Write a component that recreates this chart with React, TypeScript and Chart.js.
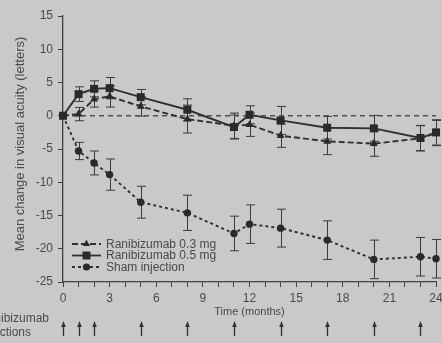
import { useEffect, useRef } from 'react';
import { Chart, registerables } from 'chart.js';

Chart.register(...registerables);

// ---- Data ----
const months = [0, 1, 2, 3, 5, 8, 11, 12, 14, 17, 20, 23, 24];
const rani03 = [0, 0.25, 2.5, 2.9, 1.4, -0.5, -1.5, -1.35, -3.0, -3.85, -4.2, -3.4, -2.6];
const rani03Err = [0, 1.0, 1.2, 1.6, 1.45, 2.1, 1.9, 1.75, 1.75, 2.0, 1.9, 1.9, 1.9];
const rani05 = [0, 3.25, 4.05, 4.15, 2.8, 0.9, -1.7, 0.15, -0.7, -1.8, -1.9, -3.35, -2.5];
const rani05Err = [0, 1.1, 1.2, 1.6, 1.15, 1.65, 1.8, 1.35, 2.1, 1.7, 1.95, 1.9, 1.9];
const sham = [0, -5.3, -7.1, -8.85, -13.0, -14.6, -17.7, -16.3, -16.9, -18.7, -21.6, -21.2, -21.5];
const shamErr = [0, 1.3, 1.8, 2.35, 2.4, 2.65, 2.6, 2.9, 2.85, 2.9, 2.9, 2.9, 2.9];
const injectionMonths = [0, 1, 2, 5, 8, 11, 14, 17, 20, 23];
const seriesLabels = ['Ranibizumab 0.3 mg', 'Ranibizumab 0.5 mg', 'Sham injection'];
const injectionLabel = ['Ranibizumab', 'injections'];
const xTitle = 'Time (months)';
const yTitle = 'Mean change in visual acuity (letters)';

const BG = '#c9c9c9';
const INK = '#303030';
const TEXT = '#4a4a4a';
const FONT = '"Liberation Sans", Arial, sans-serif';

function drawMarker(ctx: CanvasRenderingContext2D, style: string, x: number, y: number) {
  ctx.beginPath();
  if (style === 'triangle') {
    const r = 4.2;
    ctx.moveTo(x, y - r);
    ctx.lineTo(x + r * 0.866, y + r * 0.5);
    ctx.lineTo(x - r * 0.866, y + r * 0.5);
    ctx.closePath();
  } else if (style === 'rect') {
    ctx.rect(x - 4, y - 4, 8, 8);
  } else {
    ctx.arc(x, y, 3.6, 0, Math.PI * 2);
  }
  ctx.fill();
}

export default function App() {
  const ref = useRef<HTMLCanvasElement>(null);

  useEffect(() => {
    document.body.style.margin = '0';
    const canvas = ref.current!;
    const pts = (ys: number[]) => months.map((m, i) => ({ x: m, y: ys[i] }));
    const errs = [rani03Err, rani05Err, shamErr];
    const styles = ['triangle', 'rect', 'circle'];
    const dashes = [[6, 3], [], [3, 3]];

    const bgPlugin = {
      id: 'bg',
      beforeDraw(chart: any) {
        const c = chart.ctx;
        c.save();
        c.fillStyle = BG;
        c.fillRect(0, 0, chart.width, chart.height);
        c.restore();
      },
    };

    const errorBars = {
      id: 'errorBars',
      beforeDatasetsDraw(chart: any) {
        const c = chart.ctx;
        const ys = chart.scales.y;
        c.save();
        c.strokeStyle = '#3a3a3a';
        c.lineWidth = 1;
        for (let d = 0; d < 3; d++) {
          const meta = chart.getDatasetMeta(d);
          const vals = chart.data.datasets[d].data;
          meta.data.forEach((el: any, j: number) => {
            const e = errs[d][j];
            if (!e) return;
            const v = vals[j].y;
            const x = Math.round(el.x) + 0.5;
            const t = ys.getPixelForValue(v + e);
            const b = ys.getPixelForValue(v - e);
            c.beginPath();
            c.moveTo(x, t);
            c.lineTo(x, b);
            c.moveTo(x - 4.5, t);
            c.lineTo(x + 4.5, t);
            c.moveTo(x - 4.5, b);
            c.lineTo(x + 4.5, b);
            c.stroke();
          });
        }
        c.restore();
      },
    };

    const extras = {
      id: 'extras',
      afterDraw(chart: any) {
        const c = chart.ctx;
        const xs = chart.scales.x;
        c.save();
        // y-axis title
        c.save();
        c.translate(20, 144);
        c.rotate(-Math.PI / 2);
        c.fillStyle = TEXT;
        c.font = `13px ${FONT}`;
        c.textAlign = 'center';
        c.textBaseline = 'middle';
        c.fillText(yTitle, 0, 0);
        c.restore();
        // legend
        const rowsY = [244, 255.5, 267];
        for (let i = 0; i < 3; i++) {
          const y = rowsY[i];
          c.strokeStyle = INK;
          c.lineWidth = 1.8;
          c.setLineDash(dashes[i]);
          c.beginPath();
          c.moveTo(72, y);
          c.lineTo(101, y);
          c.stroke();
          c.setLineDash([]);
          c.fillStyle = '#2a2a2a';
          drawMarker(c, styles[i], 86.5, y);
          c.fillStyle = TEXT;
          c.font = `12px ${FONT}`;
          c.textBaseline = 'middle';
          c.textAlign = 'left';
          c.fillText(seriesLabels[i], 106, y + 0.5);
        }
        // injection label
        c.fillStyle = TEXT;
        c.font = `12px ${FONT}`;
        c.textAlign = 'left';
        c.textBaseline = 'middle';
        c.fillText(injectionLabel[0], -21, 319);
        c.fillText(injectionLabel[1], -19, 333);
        // arrows
        c.strokeStyle = INK;
        c.fillStyle = INK;
        c.lineWidth = 1.3;
        injectionMonths.forEach((m) => {
          const x = Math.round(xs.getPixelForValue(m)) + 0.5;
          c.beginPath();
          c.moveTo(x, 336);
          c.lineTo(x, 325);
          c.stroke();
          c.beginPath();
          c.moveTo(x, 321);
          c.lineTo(x + 2.3, 327);
          c.lineTo(x - 2.3, 327);
          c.closePath();
          c.fill();
        });
        c.restore();
      },
    };

    const chart = new Chart(canvas, {
      type: 'line',
      data: {
        datasets: [
          ...[rani03, rani05, sham].map((ys, i) => ({
            label: seriesLabels[i],
            data: pts(ys),
            borderColor: INK,
            backgroundColor: '#2a2a2a',
            borderWidth: 1.9,
            borderDash: dashes[i],
            pointStyle: styles[i] as any,
            pointRadius: i === 1 ? 5.66 : i === 0 ? 4.6 : 3.7,
            pointBorderWidth: 0,
            pointBackgroundColor: '#2a2a2a',
            tension: 0,
            clip: false as any,
            order: 3 - i,
          })),
          {
            label: 'zero',
            data: [{ x: 0, y: 0 }, { x: 24, y: 0 }],
            borderColor: '#505050',
            borderWidth: 1.5,
            borderDash: [5, 4],
            pointRadius: 0,
            clip: false as any,
            order: 10,
          },
        ],
      },
      options: {
        responsive: false,
        animation: false,
        devicePixelRatio: 1,
        layout: { padding: { top: 16, right: 6, left: 0, bottom: 0 } },
        plugins: { legend: { display: false }, tooltip: { enabled: false } },
        scales: {
          x: {
            type: 'linear',
            min: 0,
            max: 24,
            ticks: {
              stepSize: 1,
              autoSkip: false,
              maxRotation: 0,
              color: TEXT,
              font: { size: 12, family: FONT },
              padding: 4,
              callback: (v: any) => (Number(v) % 3 === 0 ? String(v) : ''),
            },
            grid: { drawOnChartArea: false, drawTicks: true, tickLength: 5, color: '#404040', tickWidth: 1 },
            border: { display: true, color: '#404040', width: 1.3 },
            title: {
              display: true,
              text: xTitle,
              color: TEXT,
              font: { size: 11, family: FONT },
              padding: { top: 0, bottom: 24.4 },
            },
            afterFit: (s: any) => {
              s.height = 61;
              s.paddingLeft = 0;
              s.paddingRight = 0;
            },
          },
          y: {
            min: -25,
            max: 15,
            ticks: {
              stepSize: 5,
              color: TEXT,
              font: { size: 12, family: FONT },
              padding: 5,
            },
            grid: { drawOnChartArea: false, drawTicks: true, tickLength: 5, color: '#404040', tickWidth: 1 },
            border: { display: true, color: '#404040', width: 1.3 },
            title: { display: false },
            afterFit: (s: any) => {
              s.width = 63;
              s.paddingTop = 0;
              s.paddingBottom = 0;
            },
          },
        },
      } as any,
      plugins: [bgPlugin, errorBars, extras],
    });
    return () => chart.destroy();
  }, []);

  return (
    <div style={{ position: 'absolute', left: 0, top: 0, width: 442, height: 343 }}>
      <canvas ref={ref} width={442} height={343} style={{ display: 'block', width: 442, height: 343 }} />
    </div>
  );
}
